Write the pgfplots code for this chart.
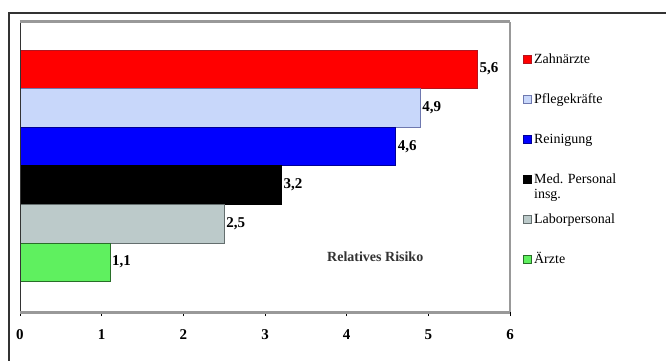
\documentclass[border=0pt]{standalone}
\usepackage{pgfplots}
\pgfplotsset{compat=1.18}
\usepackage{fontspec}
\setmainfont{Liberation Serif}
\definecolor{cZahn}{RGB}{255,0,0}
\definecolor{cZahnD}{RGB}{180,20,30}
\definecolor{cPfl}{RGB}{200,215,250}
\definecolor{cPflD}{RGB}{110,120,175}
\definecolor{cRein}{RGB}{0,0,255}
\definecolor{cReinD}{RGB}{0,0,150}
\definecolor{cMed}{RGB}{0,0,0}
\definecolor{cLab}{RGB}{188,202,202}
\definecolor{cLabD}{RGB}{100,110,110}
\definecolor{cArz}{RGB}{95,240,95}
\definecolor{cArzD}{RGB}{40,110,40}
\begin{document}
\begin{tikzpicture}[x=1pt,y=1pt]
\useasboundingbox (-20,-49) rectangle (646,312);
\draw[line width=1.2pt, black!80] (-11,-49) -- (-11,299) -- (646,299);
\begin{axis}[at={(0,0)}, anchor=south west, scale only axis,
  width=490pt, height=290pt,
  xmin=0, xmax=6, ymin=-1.295, ymax=6.218,
  xbar, bar shift=0pt, bar width=1,
  axis line style={draw=none},
  xtick={0,1,2,3,4,5,6}, ytick=\empty, xtick pos=bottom, tick align=outside,
  major tick length=4pt,
  tick style={black, line width=0.6pt},
  /pgf/number format/assume math mode=true,
  xticklabel style={font=\fontsize{15}{15}\selectfont\bfseries, yshift=-10pt},
  nodes near coords={\pgfmathprintnumber[use comma,fixed,fixed zerofill,precision=1]{\pgfplotspointmeta}},
  nodes near coords style={font=\fontsize{15}{15}\selectfont\bfseries, anchor=west, black, inner sep=2pt},
  legend style={at={(1.027,0.90)}, anchor=north west, draw=none, fill=none,
    inner sep=0pt, row sep=23pt,
    font=\fontsize{14}{15}\selectfont,
    nodes={text height=10pt, text depth=3pt, inner sep=2pt},
    cells={anchor=west}},
  legend image code/.code={\draw[#1, line width=0.7pt] (0pt,-4pt) rectangle (8pt,4pt);},
  clip=false,
]
\addplot[fill=cZahn, draw=cZahnD] coordinates {(5.6,5)};
\addlegendentry{Zahnärzte}
\addplot[fill=cPfl, draw=cPflD] coordinates {(4.9,4)};
\addlegendentry{Pflegekräfte}
\addplot[fill=cRein, draw=cReinD] coordinates {(4.6,3)};
\addlegendentry{Reinigung}
\addplot[fill=cMed, draw=cMed] coordinates {(3.2,2)};
\addlegendentry{\begin{tabular}[t]{@{}l@{}}Med. Personal\\insg.\end{tabular}}
\addplot[fill=cLab, draw=cLabD] coordinates {(2.5,1)};
\addlegendentry{Laborpersonal}
\addplot[fill=cArz, draw=cArzD] coordinates {(1.1,0)};
\addlegendentry{Ärzte}
\draw[black!80, line width=0.8pt] (rel axis cs:0,0) -- (rel axis cs:0,1);
\draw[black!40, line width=3pt] (rel axis cs:0,1) -- (rel axis cs:1,1);
\draw[black!40, line width=3pt] (rel axis cs:0,0) -- (rel axis cs:1,0);
\draw[black!40, line width=2pt] (rel axis cs:1,0) -- (rel axis cs:1,1);
\node[font=\fontsize{14}{14}\selectfont\bfseries, text=black!80] at (axis cs:4.35,0.13) {Relatives Risiko};
\end{axis}
\end{tikzpicture}
\end{document}
